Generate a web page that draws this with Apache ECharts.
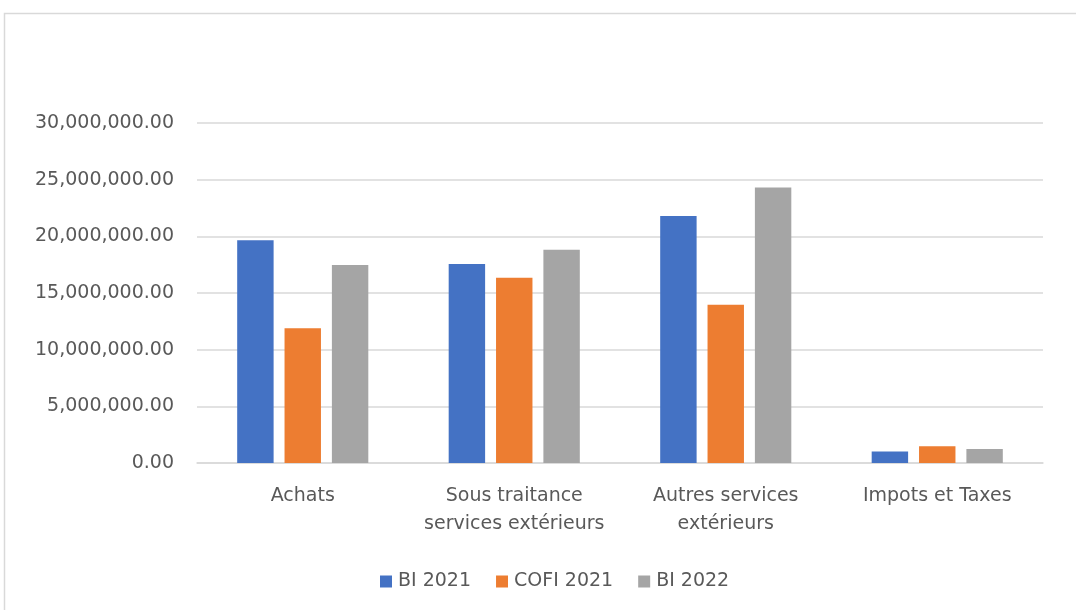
<!DOCTYPE html>
<html>
<head>
<meta charset="utf-8">
<script src="https://cdn.jsdelivr.net/npm/echarts@6/dist/echarts.min.js"></script>
<style>
html,body{margin:0;padding:0;background:#fff;}
#c{width:1076px;height:610px;}
</style>
</head>
<body>
<div id="c"></div>
<script>
const categories = ['Achats', 'Sous traitance\nservices extérieurs', 'Autres services\nextérieurs', 'Impots et Taxes'];
const seriesNames = ['BI 2021', 'COFI 2021', 'BI 2022'];
const bi2021 = [19650000, 17550000, 21800000, 1020000];
const cofi2021 = [11900000, 16340000, 13960000, 1480000];
const bi2022 = [17460000, 18820000, 24300000, 1240000];
const colors = ['#4472C4', '#ED7D31', '#A5A5A5'];

const font = 'DejaVu Sans';
const chart = echarts.init(document.getElementById('c'), null, {renderer: 'canvas'});
const fmt = v => v.toLocaleString('en-US', {minimumFractionDigits: 2, maximumFractionDigits: 2});

chart.setOption({
  animation: false,
  backgroundColor: '#fff',
  graphic: [{
    type: 'rect', silent: true, z: -1,
    shape: {x: 4.5, y: 13.5, width: 1120, height: 640},
    style: {fill: 'none', stroke: '#d9d9d9', lineWidth: 1.5}
  }],
  grid: {left: 197, right: 33, top: 123, bottom: 147, containLabel: false},
  legend: {
    data: seriesNames,
    left: 375, top: 567,
    itemWidth: 12, itemHeight: 12, itemGap: 25,
    icon: 'rect',
    textStyle: {fontFamily: font, fontSize: 19, color: '#595959', padding: [0, 0, 0, 1]}
  },
  xAxis: {
    type: 'category',
    data: categories,
    axisLine: {lineStyle: {color: '#d9d9d9', width: 1.5}},
    axisTick: {show: false},
    axisLabel: {fontFamily: font, fontSize: 19, color: '#595959', margin: 19, lineHeight: 28, interval: 0}
  },
  yAxis: {
    type: 'value',
    min: 0, max: 30000000, interval: 5000000,
    axisLine: {show: false},
    axisTick: {show: false},
    splitLine: {lineStyle: {color: '#d9d9d9', width: 1.5}},
    axisLabel: {fontFamily: font, fontSize: 19, color: '#595959', margin: 23, formatter: fmt}
  },
  series: [
    {name: seriesNames[0], type: 'bar', data: bi2021, itemStyle: {color: colors[0]}, barGap: '30%', barCategoryGap: '38%'},
    {name: seriesNames[1], type: 'bar', data: cofi2021, itemStyle: {color: colors[1]}, barGap: '30%', barCategoryGap: '38%'},
    {name: seriesNames[2], type: 'bar', data: bi2022, itemStyle: {color: colors[2]}, barGap: '30%', barCategoryGap: '38%'}
  ]
});
</script>
</body>
</html>
